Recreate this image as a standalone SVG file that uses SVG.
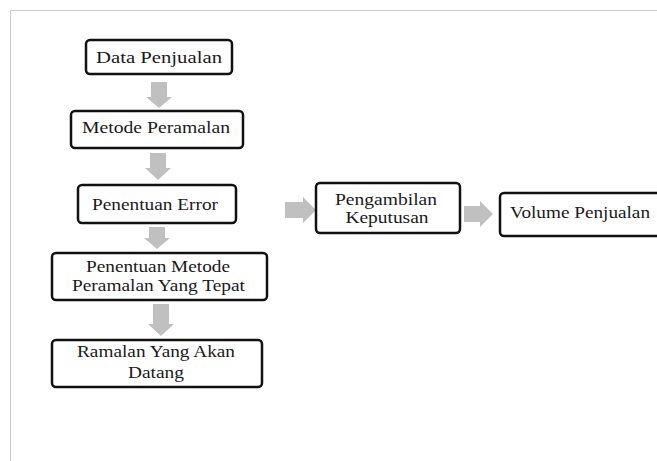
<svg xmlns="http://www.w3.org/2000/svg" width="657" height="461" viewBox="0 0 657 461">
<style>
.box{fill:#fff;stroke:#111;stroke-width:2.5}
.arr{fill:#c0c0c0}
text{font-family:"Liberation Serif","Times New Roman",serif;font-size:17px;fill:#1a1a1a;text-anchor:middle}
</style>
<rect width="657" height="461" fill="#fff"/>
<path d="M10.5 461 V10.5 H657" fill="none" stroke="#d0d0d0" stroke-width="1.2"/>
<g id="connectors">
<path class="arr" d="M151 82 H167 V97 H172 L159 108 L146 97 H151 Z"/>
<path class="arr" d="M150 153 H166 V168 H171 L158 180 L145 168 H150 Z"/>
<path class="arr" d="M149 227 H165 V238 H170 L157 249 L144 238 H149 Z"/>
<path class="arr" d="M153 304 H169 V324 H174 L161 336 L148 324 H153 Z"/>
<path class="arr" d="M285 202 H303 V197 L316 210 L303 223 V218 H285 Z"/>
<path class="arr" d="M464 206 H480 V201 L493 214 L480 227 V222 H464 Z"/>
</g>
<g id="node-data-penjualan">
<rect class="box" x="86" y="40" width="146" height="34" rx="4"/>
<text x="159" y="63" textLength="126" lengthAdjust="spacingAndGlyphs">Data Penjualan</text>
</g>
<g id="node-metode-peramalan">
<rect class="box" x="71" y="111" width="172" height="37" rx="4"/>
<text x="156" y="133" textLength="148" lengthAdjust="spacingAndGlyphs">Metode Peramalan</text>
</g>
<g id="node-penentuan-error">
<rect class="box" x="78" y="185" width="158" height="38" rx="4"/>
<text x="155" y="210" textLength="126" lengthAdjust="spacingAndGlyphs">Penentuan Error</text>
</g>
<g id="node-penentuan-metode">
<rect class="box" x="52" y="253" width="215" height="47" rx="4"/>
<text x="158" y="272" textLength="144" lengthAdjust="spacingAndGlyphs">Penentuan Metode</text>
<text x="158.5" y="291" textLength="173" lengthAdjust="spacingAndGlyphs">Peramalan Yang Tepat</text>
</g>
<g id="node-ramalan">
<rect class="box" x="52" y="340" width="210" height="47" rx="4"/>
<text x="156" y="357" textLength="158" lengthAdjust="spacingAndGlyphs">Ramalan Yang Akan</text>
<text x="156" y="378" textLength="56" lengthAdjust="spacingAndGlyphs">Datang</text>
</g>
<g id="node-pengambilan-keputusan">
<rect class="box" x="316" y="183" width="144" height="50" rx="4"/>
<text x="386" y="205" textLength="102" lengthAdjust="spacingAndGlyphs">Pengambilan</text>
<text x="387" y="223" textLength="83" lengthAdjust="spacingAndGlyphs">Keputusan</text>
</g>
<g id="node-volume-penjualan">
<rect class="box" x="500" y="193" width="170" height="43" rx="4"/>
<text x="580" y="218" textLength="140" lengthAdjust="spacingAndGlyphs">Volume Penjualan</text>
</g>
</svg>
